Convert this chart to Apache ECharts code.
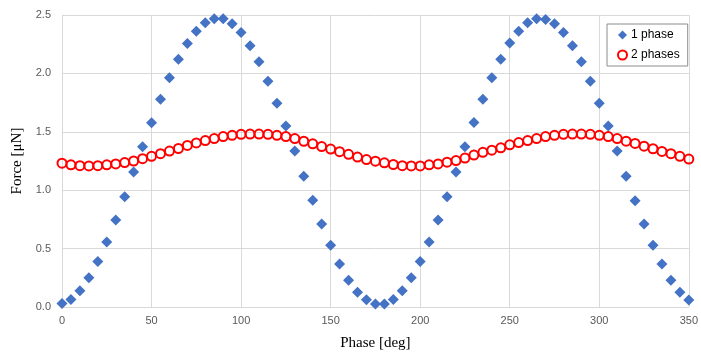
<!DOCTYPE html>
<html>
<head>
<meta charset="utf-8">
<script src="https://cdn.jsdelivr.net/npm/echarts@6/dist/echarts.min.js"></script>
<style>
  html, body { margin: 0; padding: 0; background: #fff; }
  #chart { width: 701px; height: 356px; }
</style>
</head>
<body>
<div id="chart"></div>
<script>
// phase in degrees, every 5 deg
const phase = [0, 5, 10, 15, 20, 25, 30, 35, 40, 45, 50, 55, 60, 65, 70, 75, 80, 85, 90, 95,
  100, 105, 110, 115, 120, 125, 130, 135, 140, 145, 150, 155, 160, 165, 170, 175, 180, 185, 190, 195,
  200, 205, 210, 215, 220, 225, 230, 235, 240, 245, 250, 255, 260, 265, 270, 275, 280, 285, 290, 295,
  300, 305, 310, 315, 320, 325, 330, 335, 340, 345, 350]

// force [uN]
const onePhase = [0.03, 0.065, 0.14, 0.25, 0.39, 0.556, 0.745, 0.944, 1.155, 1.372, 1.577, 1.779, 1.962, 2.122, 2.257, 2.361, 2.434, 2.468, 2.468, 2.426,
  2.35, 2.237, 2.10, 1.933, 1.745, 1.549, 1.335, 1.12, 0.913, 0.711, 0.528, 0.368, 0.23, 0.126, 0.062, 0.025, 0.025, 0.065, 0.14, 0.25,
  0.39, 0.556, 0.745, 0.944, 1.155, 1.372, 1.58, 1.779, 1.962, 2.122, 2.26, 2.361, 2.434, 2.468, 2.462, 2.426, 2.35, 2.237, 2.10, 1.933,
  1.745, 1.549, 1.335, 1.12, 0.91, 0.711, 0.528, 0.368, 0.23, 0.126, 0.059]

const twoPhases = [1.231, 1.217, 1.21, 1.208, 1.21, 1.217, 1.225, 1.237, 1.25, 1.27, 1.29, 1.313, 1.335, 1.357, 1.383, 1.405, 1.425, 1.442, 1.459, 1.47,
  1.478, 1.481, 1.481, 1.478, 1.47, 1.459, 1.442, 1.419, 1.397, 1.374, 1.352, 1.33, 1.307, 1.284, 1.262, 1.248, 1.234, 1.22, 1.21, 1.208,
  1.208, 1.217, 1.225, 1.24, 1.254, 1.275, 1.301, 1.324, 1.343, 1.363, 1.389, 1.408, 1.425, 1.442, 1.459, 1.47, 1.478, 1.481, 1.481, 1.478,
  1.47, 1.459, 1.442, 1.42, 1.4, 1.377, 1.355, 1.332, 1.313, 1.29, 1.267]

const seriesNames = ["1 phase", "2 phases"]

const chart = echarts.init(document.getElementById("chart"), null, { renderer: "canvas" })

const gridLine = { show: true, lineStyle: { color: "#d9d9d9", width: 1 } }
const tickFont = { color: "#595959", fontSize: 11, fontFamily: "Liberation Sans" }
const titleFont = { color: "#000", fontSize: 15, fontFamily: "Liberation Serif" }

const option = {
  backgroundColor: "#fff",
  animation: false,
  grid: { left: 62, right: 9, top: 15, bottom: 45 },
  legend: {
    orient: "vertical",
    left: 607,
    top: 24,
    padding: [5, 8, 5, 10],
    itemGap: 8,
    itemWidth: 9,
    itemHeight: 9,
    borderColor: "#8c8c8c",
    borderWidth: 1,
    textStyle: { color: "#000", fontSize: 12, fontFamily: "Liberation Sans", padding: [0, 0, 0, -1] },
    data: [
      { name: seriesNames[0], icon: "diamond", itemStyle: { color: "#4472c4" } },
      { name: seriesNames[1], icon: "circle", itemStyle: { color: "#fff", borderColor: "#ff0000", borderWidth: 2 } },
    ],
  },
  xAxis: {
    type: "value",
    min: 0,
    max: 350,
    interval: 50,
    name: "Phase [deg]",
    nameLocation: "middle",
    nameGap: 29,
    nameTextStyle: titleFont,
    axisLine: { show: true, lineStyle: { color: "#d9d9d9" } },
    axisTick: { show: false },
    axisLabel: { ...tickFont, margin: 8 },
    splitLine: gridLine,
  },
  yAxis: {
    type: "value",
    min: 0,
    max: 2.5,
    interval: 0.5,
    name: "Force [μN]",
    nameLocation: "middle",
    nameGap: 33,
    nameTextStyle: titleFont,
    axisLine: { show: true, lineStyle: { color: "#d9d9d9" } },
    axisTick: { show: false },
    axisLabel: { ...tickFont, margin: 11, formatter: (v) => v.toFixed(1) },
    splitLine: gridLine,
  },
  series: [
    {
      name: seriesNames[0],
      type: "scatter",
      symbol: "diamond",
      symbolSize: 11,
      itemStyle: { color: "#4472c4", opacity: 1 },
      data: phase.map((p, i) => [p, onePhase[i]]),
    },
    {
      name: seriesNames[1],
      type: "scatter",
      symbol: "circle",
      symbolSize: 9,
      itemStyle: { color: "rgba(255,255,255,0)", borderColor: "#ff0000", borderWidth: 2, opacity: 1 },
      data: phase.map((p, i) => [p, twoPhases[i]]),
    },
  ],
}

chart.setOption(option)
</script>
</body>
</html>
